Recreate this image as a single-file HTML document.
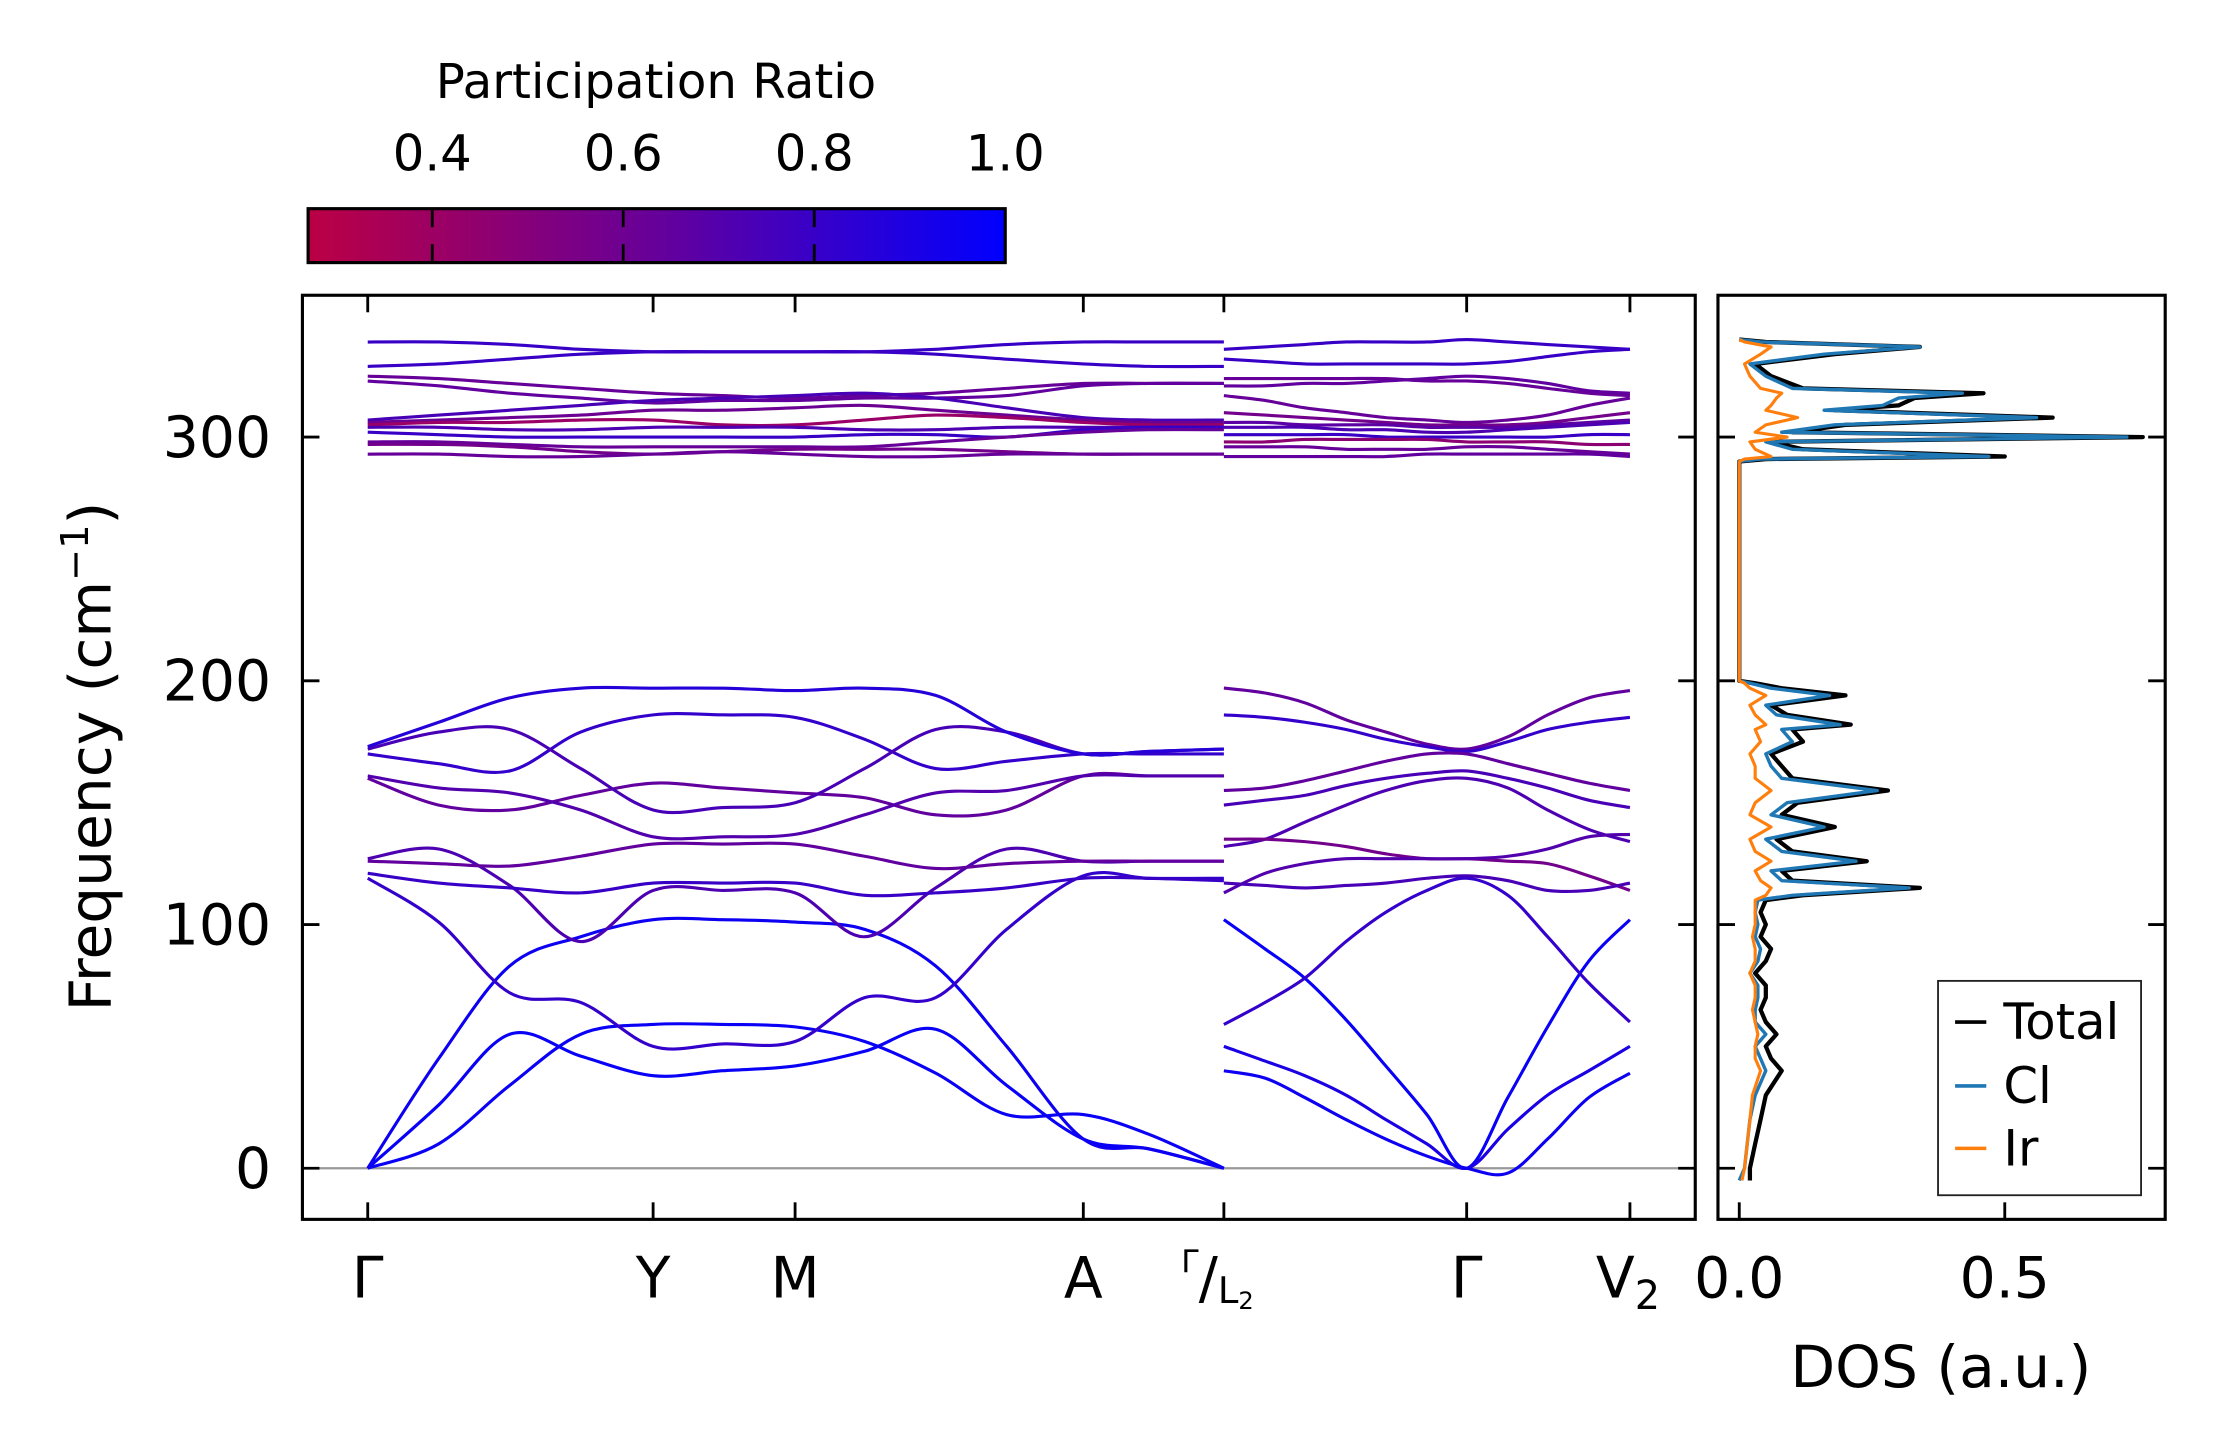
<!DOCTYPE html>
<html><head><meta charset="utf-8"><style>
html,body{margin:0;padding:0;background:#fff}
svg{display:block}
text{font-family:"DejaVu Sans","Liberation Sans",sans-serif;fill:#000}
</style></head><body>
<svg id="fig" width="2222" height="1455" viewBox="0 0 1565 1025" preserveAspectRatio="none" xmlns="http://www.w3.org/2000/svg">
<defs>
<linearGradient id="cbgrad" x1="0" x2="1" y1="0" y2="0">
<stop offset="0" stop-color="#bb0044"/><stop offset="0.5" stop-color="#66009a"/><stop offset="1" stop-color="#0000ff"/>
</linearGradient>
<clipPath id="clipMain"><rect x="213" y="208" width="981" height="651"/></clipPath>
<clipPath id="clipDos"><rect x="1210" y="208" width="315" height="651"/></clipPath>
</defs>
<g>
<text x="462" y="69" font-size="34" text-anchor="middle">Participation Ratio</text>
<rect x="217" y="147" width="491" height="38" fill="url(#cbgrad)" stroke="#000" stroke-width="2.2"/>
<g id="cbticks"></g>
</g>
<g id="main">
<line x1="213" x2="1194" y1="823" y2="823" stroke="#999" stroke-width="1.6"/>
<g id="bands" clip-path="url(#clipMain)"></g>
<rect x="213" y="208" width="981" height="651" fill="none" stroke="#000" stroke-width="2.2"/>
<g id="mainticks"></g>
<text transform="translate(78,533) rotate(-90)" font-size="41" text-anchor="middle">Frequency (cm<tspan dy="-16" font-size="27">−1</tspan><tspan dy="16">)</tspan></text>
</g>
<g id="dos">
<g id="doslines" clip-path="url(#clipDos)"></g>
<rect x="1210" y="208" width="315" height="651" fill="none" stroke="#000" stroke-width="2.2"/>
<g id="dosticks"></g>
<text x="1367" y="977" font-size="41" text-anchor="middle">DOS (a.u.)</text>
<g>
<rect x="1365" y="691" width="143" height="151" fill="#fff" stroke="#222" stroke-width="1.3"/>
<line x1="1377" x2="1399" y1="720" y2="720" stroke="#000" stroke-width="2.5"/>
<text x="1411" y="732" font-size="35">Total</text>
<line x1="1377" x2="1399" y1="765" y2="765" stroke="#1f77b4" stroke-width="2.5"/>
<text x="1411" y="777" font-size="35">Cl</text>
<line x1="1377" x2="1399" y1="809" y2="809" stroke="#ff7f0e" stroke-width="2.5"/>
<text x="1411" y="821" font-size="35">Ir</text>
</g>
</g>
</svg>
<script>
// ---------- data ----------
const yTicks=[0,100,200,300];
const kLabels=["Γ","Y","M","A","Γ/L2","Γ","V2"];
const kTicks=[0,2.01,3.01,5.04,6.03,7.74,8.89];
const cbTicks=[0.4,0.6,0.8,1.0];
const seg1K=[0,0.5,1,1.5,2.01,2.5,3.01,3.5,4,4.5,5.04,5.5,6.03];
const seg2K=[6.03,6.32,6.60,6.89,7.17,7.46,7.74,8.03,8.31,8.60,8.89];
const seg1Low=[
[0,26,55,46,38,40,42,48,57,34,12,8,0],
[0,10,34,55,59,59,58,52,39,22,22,14,0],
[0,45,83,95,102,102,101,98,83,50,12,8,0],
[119,101,72,68,50,51,52,70,70,98,120,119,119],
[127,131,116,93,114,114,113,95,115,131,126,126,126],
[121,117,115,113,117,117,117,112,113,115,119,119,118],
[126,125,124,128,133,133,133,128,123,125,126,126,126],
[160,149,147,153,158,156,154,152,145,147,161,161,161],
[161,156,154,147,136,136,137,145,154,155,161,161,161],
[170,166,163,179,186,186,185,176,164,167,170,170,170],
[172,179,180,164,147,148,150,164,180,179,170,171,172],
[173,183,193,197,197,197,196,197,194,179,170,171,172]];
const seg1LowPR=[0.97,0.96,0.95,0.8,0.7,0.78,0.62,0.62,0.68,0.8,0.72,0.85];
const seg1High=[
[339,339,338,336,335,335,335,335,336,338,339,339,339],
[329,330,332,334,335,335,335,335,334,332,330,329,329],
[325,324,322,320,318,317,316,317,318,320,322,322,322],
[323,321,318,316,314,315,315,316,316,317,321,322,322],
[307,309,311,313,315,316,317,318,316,312,308,307,307],
[306,307,308,309,311,311,312,313,311,309,307,306,306],
[305,306,306,307,307,305,305,307,309,308,306,305,305],
[304,304,303,303,304,304,304,303,303,304,304,304,304],
[302,301,300,300,300,300,300,301,301,300,303,304,304],
[298,298,297,296,296,296,296,296,298,300,302,303,303],
[297,297,296,294,293,294,295,295,295,294,293,293,293],
[293,293,292,292,293,294,293,292,292,293,293,293,293]];
const seg1HighPR=[0.78,0.78,0.6,0.62,0.72,0.58,0.4,0.7,0.78,0.6,0.55,0.6];
const seg2Low=[
[197,195,191,184,179,174,172,177,186,193,196],
[186,185,183,180,176,173,171,175,180,183,185],
[155,156,159,163,167,170,170,166,162,158,155],
[149,151,153,157,160,162,163,160,156,151,148],
[132,135,142,149,155,159,160,156,147,139,134],
[135,135,134,132,129,127,127,126,125,120,114],
[113,121,125,127,127,127,127,128,131,136,137],
[117,116,115,116,117,119,120,118,114,114,117],
[102,90,78,61,42,22,0,29,58,85,102],
[59,68,78,93,105,114,119,112,95,76,60],
[50,44,38,30,20,10,0,16,30,40,50],
[40,37,29,20,12,5,0,-2,12,29,39]];
const seg2LowPR=[0.62,0.8,0.62,0.72,0.7,0.55,0.68,0.72,0.97,0.8,0.9,0.95];
const seg2High=[
[336,337,338,339,339,339,340,339,338,337,336],
[332,331,330,330,330,330,330,331,333,335,336],
[324,324,324,324,324,323,323,322,320,318,317],
[321,321,322,322,323,324,325,324,322,319,318],
[317,315,312,310,308,307,306,307,309,313,316],
[310,309,308,307,306,305,305,305,306,308,310],
[306,306,305,305,305,304,304,304,305,306,307],
[304,304,304,303,303,302,302,303,304,305,306],
[301,301,301,301,300,300,300,300,300,301,301],
[298,298,299,299,299,299,298,298,298,297,297],
[296,296,296,295,295,295,296,296,295,294,293],
[292,292,292,292,292,293,293,293,293,293,292]];
const seg2HighPR=[0.78,0.78,0.6,0.62,0.6,0.55,0.65,0.7,0.78,0.45,0.6,0.62];
const dosFreq=[-5,0,10,20,30,40,45,50,55,60,65,70,75,80,85,90,95,100,105,110,112,115,118,122,126,130,135,140,145,150,155,160,165,170,175,180,182,186,190,194,197,199,200,290,291,292,295,298,300,302,305,308,311,313,316,318,320,325,330,334,337,339,340];
const dosTotal=[0.02,0.02,0.03,0.04,0.05,0.08,0.06,0.05,0.07,0.05,0.04,0.05,0.05,0.03,0.05,0.06,0.04,0.05,0.04,0.05,0.12,0.34,0.1,0.08,0.24,0.1,0.07,0.18,0.08,0.11,0.28,0.1,0.08,0.06,0.12,0.1,0.21,0.09,0.06,0.2,0.08,0.03,0.0,0.0,0.05,0.5,0.12,0.06,0.76,0.1,0.2,0.59,0.18,0.3,0.33,0.46,0.12,0.06,0.03,0.18,0.34,0.05,0];
const dosCl=[0.0,0.01,0.015,0.02,0.03,0.05,0.04,0.03,0.05,0.03,0.03,0.035,0.035,0.02,0.035,0.04,0.03,0.035,0.03,0.035,0.1,0.32,0.08,0.06,0.22,0.08,0.05,0.16,0.06,0.09,0.26,0.08,0.06,0.05,0.1,0.08,0.19,0.07,0.05,0.17,0.06,0.02,0,0,0.04,0.47,0.1,0.05,0.73,0.08,0.18,0.56,0.16,0.27,0.3,0.42,0.1,0.05,0.02,0.16,0.34,0.04,0];
const dosIr=[0.005,0.01,0.015,0.02,0.025,0.04,0.03,0.03,0.035,0.03,0.025,0.03,0.03,0.02,0.03,0.03,0.025,0.03,0.03,0.03,0.05,0.06,0.04,0.03,0.06,0.03,0.02,0.06,0.02,0.03,0.06,0.03,0.03,0.02,0.04,0.03,0.05,0.03,0.02,0.05,0.02,0.01,0,0,0.01,0.06,0.03,0.02,0.09,0.03,0.05,0.11,0.05,0.06,0.07,0.08,0.04,0.02,0.01,0.04,0.06,0.01,0];
const dosTicks=[0.0,0.5];

// ---------- axes ----------
const NS="http://www.w3.org/2000/svg";
function yScale(f){return 823-f*1.717;}
function xScale(k){return 259+k*100;}
function dScale(v){return 1225+v*374;}
function cbScale(p){return 217+(p-0.27)/0.73*491;}
function prColor(p){const t=Math.max(0,Math.min(1,(p-0.27)/0.73));
  const r=Math.round(187*(1-t)),b=Math.round(68+187*t);return `rgb(${r},0,${b})`;}
function mk(tag,attrs,parent){const e=document.createElementNS(NS,tag);for(const a in attrs)e.setAttribute(a,attrs[a]);parent.appendChild(e);return e;}
function smooth(pts){let d=`M${pts[0][0]},${pts[0][1]}`;
  for(let i=0;i<pts.length-1;i++){const p0=pts[Math.max(0,i-1)],p1=pts[i],p2=pts[i+1],p3=pts[Math.min(pts.length-1,i+2)];
    const c1x=p1[0]+(p2[0]-p0[0])/6,c1y=p1[1]+(p2[1]-p0[1])/6,c2x=p2[0]-(p3[0]-p1[0])/6,c2y=p2[1]-(p3[1]-p1[1])/6;
    d+=` C${c1x.toFixed(1)},${c1y.toFixed(1)} ${c2x.toFixed(1)},${c2y.toFixed(1)} ${p2[0].toFixed(1)},${p2[1].toFixed(1)}`;}
  return d;}

const cbt=document.getElementById('cbticks');
cbTicks.forEach(p=>{const x=cbScale(p);
  if(p<0.99){const t1=mk('line',{x1:x,x2:x,y1:147,y2:160,stroke:'#000','stroke-width':2},cbt);
  
  
  const t2=mk('line',{x1:x,x2:x,y1:172,y2:185,stroke:'#000','stroke-width':2},cbt);
  
  }
  const tx=mk('text',{x:x,y:120,'font-size':35,'text-anchor':'middle'},cbt);tx.textContent=p.toFixed(1);
  
  
});

const mt=document.getElementById('mainticks');
yTicks.forEach(v=>{const y=yScale(v);
  const a=mk('line',{x1:213,x2:225,y1:y,y2:y,stroke:'#000','stroke-width':2},mt);
  
  
  const b=mk('line',{x1:1182,x2:1194,y1:y,y2:y,stroke:'#000','stroke-width':2},mt);
  
  
  const t=mk('text',{x:191,y:y+14,'font-size':40,'text-anchor':'end'},mt);t.textContent=v;
  
  
});
kTicks.forEach((k,i)=>{const x=xScale(k);
  const a=mk('line',{x1:x,x2:x,y1:847,y2:859,stroke:'#000','stroke-width':2},mt);
  
  
  const b=mk('line',{x1:x,x2:x,y1:208,y2:220,stroke:'#000','stroke-width':2},mt);
  
  
  const lab=kLabels[i];let t;
  if(lab==="Γ/L2"){t=mk('text',{x:x-30,y:914,'font-size':40},mt);
    t.innerHTML='<tspan font-size="22" dy="-18">Γ</tspan><tspan dy="18">/</tspan><tspan font-size="26" dy="4">L</tspan><tspan font-size="17" dy="4">2</tspan>';}
  else if(lab==="V2"){t=mk('text',{x:x-24,y:914,'font-size':40},mt);
    t.innerHTML='V<tspan font-size="28" dy="8">2</tspan>';}
  else{t=mk('text',{x:x,y:914,'font-size':40,'text-anchor':'middle'},mt);t.textContent=lab;}
  
  
});

const bg=document.getElementById('bands');
function drawBands(K,set,prs,name){set.forEach((vals,i)=>{
  const pts=vals.map((f,j)=>[xScale(K[j]),yScale(f)]);
  const p=mk('path',{d:smooth(pts),fill:'none',stroke:prColor(prs[i]),'stroke-width':2.2},bg);
  
  
});}
drawBands(seg1K,seg1High,seg1HighPR,'optical-band-high');
drawBands(seg2K,seg2High,seg2HighPR,'optical-band-high');
drawBands(seg1K,seg1Low,seg1LowPR,'phonon-band-low');
drawBands(seg2K,seg2Low,seg2LowPR,'phonon-band-low');

const dt=document.getElementById('dosticks');
yTicks.forEach(v=>{const y=yScale(v);
  const a=mk('line',{x1:1210,x2:1222,y1:y,y2:y,stroke:'#000','stroke-width':2},dt);
  
  
  const b=mk('line',{x1:1513,x2:1525,y1:y,y2:y,stroke:'#000','stroke-width':2},dt);
  
  
});
dosTicks.forEach(v=>{const x=dScale(v);
  const a=mk('line',{x1:x,x2:x,y1:847,y2:859,stroke:'#000','stroke-width':2},dt);
  
  
  const t=mk('text',{x:x,y:914,'font-size':40,'text-anchor':'middle'},dt);t.textContent=v.toFixed(1);
  
  
});
const dl=document.getElementById('doslines');
function dosLine(vals,color,w,name){
  const d=vals.map((v,i)=>(i?'L':'M')+dScale(v).toFixed(1)+','+yScale(dosFreq[i]).toFixed(1)).join(' ');
  const p=mk('path',{d:d,fill:'none',stroke:color,'stroke-width':w,'stroke-linejoin':'round'},dl);
  
  
}
dosLine(dosTotal,'#000',3,'dos-total-line');
dosLine(dosCl,'#1f77b4',2.4,'dos-cl-line');
dosLine(dosIr,'#ff7f0e',2.2,'dos-ir-line');
</script>
</body></html>
